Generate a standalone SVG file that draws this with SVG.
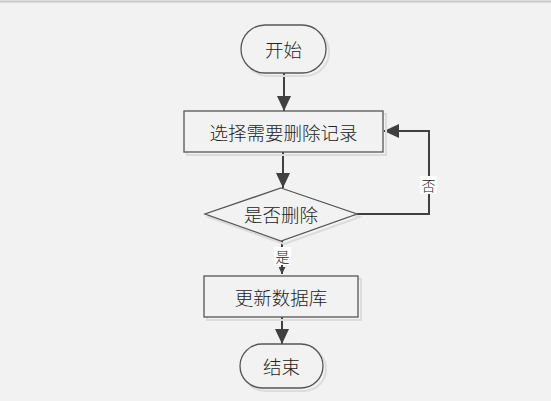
<svg xmlns="http://www.w3.org/2000/svg" width="551" height="401" viewBox="0 0 551 401">
<style>
.node{fill:#f2f2f2;stroke:#555555;stroke-width:1.3}
.shadow{fill:none;stroke:#dcdcdc;stroke-width:2}
.t{font-family:"Noto Sans CJK SC","Liberation Sans",sans-serif;font-size:18.5px;font-weight:300;fill:#222222;text-anchor:middle;dominant-baseline:central}
.lbl{font-family:"Noto Sans CJK SC","Liberation Sans",sans-serif;font-size:14px;font-weight:300;fill:#222222;text-anchor:middle;dominant-baseline:central}
.edge{fill:none;stroke:#404040;stroke-width:2}
</style>
<defs>
<marker id="ah" viewBox="0 0 15 14" refX="15" refY="7" markerWidth="15" markerHeight="14" markerUnits="userSpaceOnUse" orient="auto">
<path d="M0,0 L15,7 L0,14 z" fill="#404040"/>
</marker>
<marker id="ahs" viewBox="0 0 7 7" refX="7" refY="3.5" markerWidth="7" markerHeight="7" markerUnits="userSpaceOnUse" orient="auto">
<path d="M0,0 L7,3.5 L0,7 z" fill="#404040"/>
</marker>
</defs>
<rect x="0" y="0" width="551" height="401" fill="#f2f2f2"/>
<line x1="0" y1="1.5" x2="551" y2="1.5" stroke="#c8c8c8" stroke-width="2"/>
<g id="connectors">
<path class="edge" d="M284,73 V111" marker-end="url(#ah)"/>
<path class="edge" d="M283,152 V188" marker-end="url(#ah)"/>
<path class="edge" d="M282,241 V274" marker-end="url(#ahs)" stroke-width="1.5"/>
<path class="edge" d="M357,214 H429 V131 H384" marker-end="url(#ah)" stroke-width="1.5"/>
<path class="edge" d="M282,317 V344" marker-end="url(#ah)"/>
<rect x="420" y="176" width="17" height="18" fill="#ffffff"/>
<text class="lbl" x="428.5" y="185">否</text>
<rect x="274" y="247" width="17" height="18" fill="#ffffff"/>
<text class="lbl" x="282.5" y="256">是</text>
</g>
<g id="start">
<rect class="shadow" x="244" y="28" width="85" height="48" rx="24"/>
<rect class="node" x="241" y="25" width="85" height="48" rx="24"/>
<text class="t" x="283.5" y="49">开始</text>
</g>
<g id="select">
<rect class="shadow" x="187" y="114" width="199" height="41"/>
<rect class="node" x="184" y="111" width="199" height="41"/>
<text class="t" x="283.5" y="131.5">选择需要删除记录</text>
</g>
<g id="decide">
<polygon class="shadow" points="284,191 360,217 284,244 208,217"/>
<polygon class="node" points="281,188 357,214 281,241 205,214"/>
<text class="t" x="281" y="214">是否删除</text>
</g>
<g id="update">
<rect class="shadow" x="207" y="279" width="154" height="41"/>
<rect class="node" x="204" y="276" width="154" height="41"/>
<text class="t" x="281" y="297">更新数据库</text>
</g>
<g id="end">
<rect class="shadow" x="243" y="347" width="83" height="44" rx="22"/>
<rect class="node" x="240" y="344" width="83" height="44" rx="22"/>
<text class="t" x="281.5" y="366">结束</text>
</g>
</svg>
